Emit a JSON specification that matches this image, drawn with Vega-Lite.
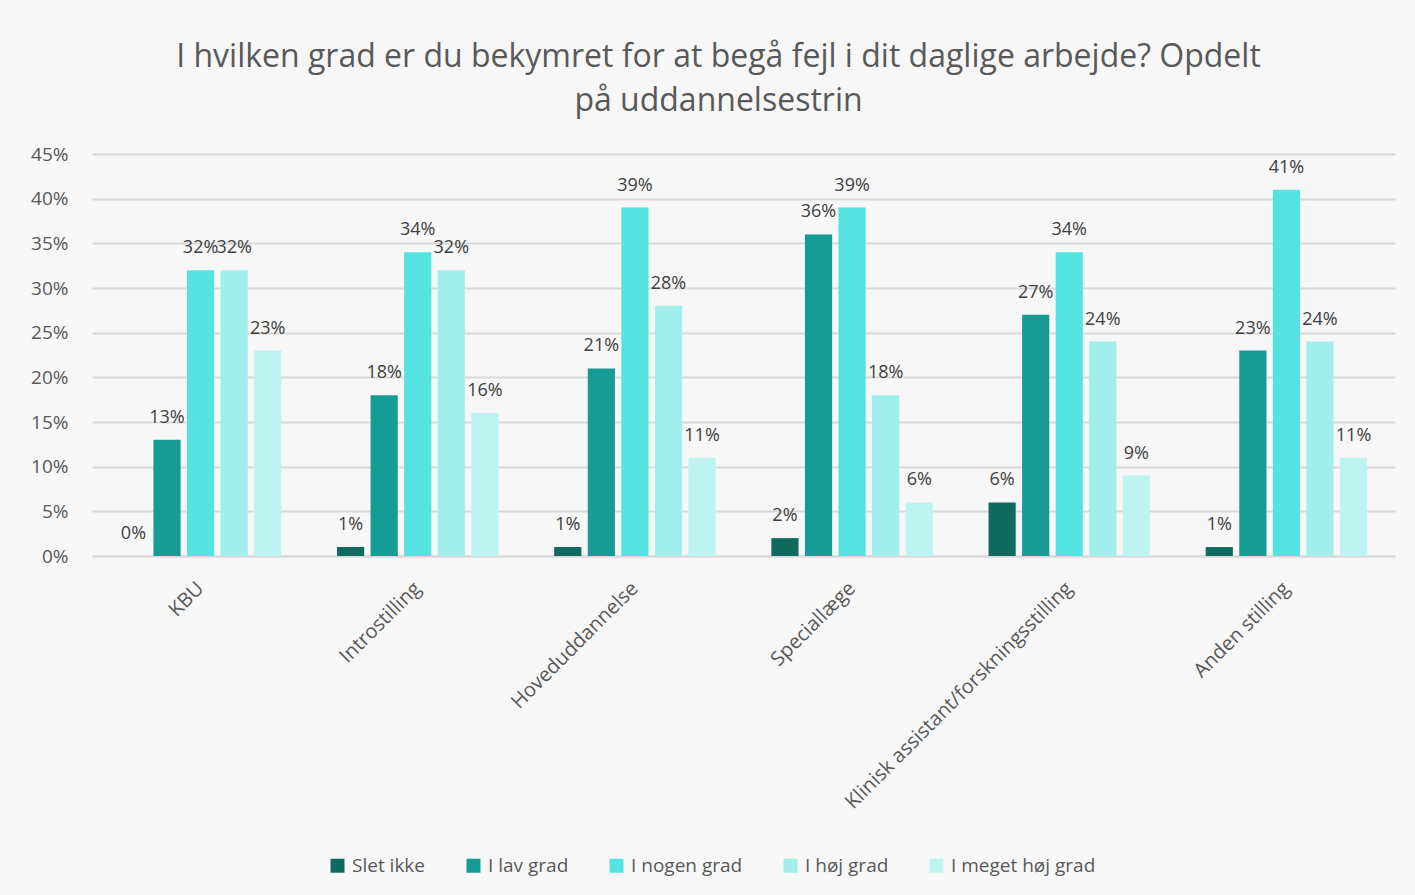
{
  "$schema": "https://vega.github.io/schema/vega-lite/v6.json",
  "width": 1303,
  "height": 402,
  "autosize": {"type": "none"},
  "padding": {"left": 92, "top": 154, "right": 20, "bottom": 339},
  "background": "#f7f7f7",
  "title": {
    "text": ["I hvilken grad er du bekymret for at begå fejl i dit daglige arbejde? Opdelt", "på uddannelsestrin"],
    "font": "Open Sans",
    "fontSize": 32,
    "fontWeight": "normal",
    "color": "#595959",
    "anchor": "middle",
    "dx": -25,
    "offset": 27,
    "lineHeight": 44
  },
  "config": {
    "view": {"stroke": null},
    "font": "Open Sans"
  },
  "data": {
    "values": [
      {"grp": "KBU", "cat": "Slet ikke", "v": 0.00},
      {"grp": "KBU", "cat": "I lav grad", "v": 0.13},
      {"grp": "KBU", "cat": "I nogen grad", "v": 0.32},
      {"grp": "KBU", "cat": "I høj grad", "v": 0.32},
      {"grp": "KBU", "cat": "I meget høj grad", "v": 0.23},
      {"grp": "Introstilling", "cat": "Slet ikke", "v": 0.01},
      {"grp": "Introstilling", "cat": "I lav grad", "v": 0.18},
      {"grp": "Introstilling", "cat": "I nogen grad", "v": 0.34},
      {"grp": "Introstilling", "cat": "I høj grad", "v": 0.32},
      {"grp": "Introstilling", "cat": "I meget høj grad", "v": 0.16},
      {"grp": "Hoveduddannelse", "cat": "Slet ikke", "v": 0.01},
      {"grp": "Hoveduddannelse", "cat": "I lav grad", "v": 0.21},
      {"grp": "Hoveduddannelse", "cat": "I nogen grad", "v": 0.39},
      {"grp": "Hoveduddannelse", "cat": "I høj grad", "v": 0.28},
      {"grp": "Hoveduddannelse", "cat": "I meget høj grad", "v": 0.11},
      {"grp": "Speciallæge", "cat": "Slet ikke", "v": 0.02},
      {"grp": "Speciallæge", "cat": "I lav grad", "v": 0.36},
      {"grp": "Speciallæge", "cat": "I nogen grad", "v": 0.39},
      {"grp": "Speciallæge", "cat": "I høj grad", "v": 0.18},
      {"grp": "Speciallæge", "cat": "I meget høj grad", "v": 0.06},
      {"grp": "Klinisk assistant/forskningsstilling", "cat": "Slet ikke", "v": 0.06},
      {"grp": "Klinisk assistant/forskningsstilling", "cat": "I lav grad", "v": 0.27},
      {"grp": "Klinisk assistant/forskningsstilling", "cat": "I nogen grad", "v": 0.34},
      {"grp": "Klinisk assistant/forskningsstilling", "cat": "I høj grad", "v": 0.24},
      {"grp": "Klinisk assistant/forskningsstilling", "cat": "I meget høj grad", "v": 0.09},
      {"grp": "Anden stilling", "cat": "Slet ikke", "v": 0.01},
      {"grp": "Anden stilling", "cat": "I lav grad", "v": 0.23},
      {"grp": "Anden stilling", "cat": "I nogen grad", "v": 0.41},
      {"grp": "Anden stilling", "cat": "I høj grad", "v": 0.24},
      {"grp": "Anden stilling", "cat": "I meget høj grad", "v": 0.11}
    ]
  },
  "encoding": {
    "x": {
      "field": "grp",
      "type": "nominal",
      "sort": null,
      "scale": {"paddingInner": 0, "paddingOuter": 0},
      "axis": {
        "title": null,
        "labelAngle": -45,
        "labelAlign": "right",
        "labelBaseline": "middle",
        "labelFont": "Open Sans",
        "labelFontSize": 20,
        "labelColor": "#595959",
        "labelPadding": 29,
        "ticks": false,
        "domain": true,
        "domainColor": "#d9d9d9",
        "domainWidth": 2,
        "labelLimit": 500
      }
    },
    "xOffset": {
      "field": "cat",
      "type": "nominal",
      "sort": ["Slet ikke", "I lav grad", "I nogen grad", "I høj grad", "I meget høj grad"],
      "scale": {"paddingInner": 0.19, "paddingOuter": 0.83}
    },
    "y": {
      "field": "v",
      "type": "quantitative",
      "scale": {"domain": [0, 0.45]},
      "axis": {
        "title": null,
        "format": ".0%",
        "values": [0, 0.05, 0.1, 0.15, 0.2, 0.25, 0.3, 0.35, 0.4, 0.45],
        "labelFont": "Open Sans",
        "labelFontSize": 19,
        "labelColor": "#595959",
        "labelPadding": 24,
        "ticks": false,
        "domain": false,
        "gridColor": "#d9d9d9",
        "gridWidth": 2
      }
    }
  },
  "layer": [
    {
      "mark": {"type": "bar"},
      "encoding": {
        "color": {
          "field": "cat",
          "type": "nominal",
          "sort": ["Slet ikke", "I lav grad", "I nogen grad", "I høj grad", "I meget høj grad"],
          "scale": {
            "domain": ["Slet ikke", "I lav grad", "I nogen grad", "I høj grad", "I meget høj grad"],
            "range": ["#0e6b5e", "#179b95", "#54e3e0", "#a0efeb", "#bdf4f2"]
          },
          "legend": {
            "title": null,
            "orient": "none",
            "direction": "horizontal",
            "legendX": 236,
            "legendY": 702,
            "symbolType": "square",
            "symbolSize": 196,
            "symbolStrokeWidth": 0,
            "labelFont": "Open Sans",
            "labelFontSize": 19,
            "labelColor": "#595959",
            "labelOffset": 5,
            "columnPadding": 38
          }
        }
      }
    },
    {
      "mark": {"type": "text", "baseline": "alphabetic", "dy": -17, "font": "Open Sans", "fontSize": 18, "color": "#404040"},
      "encoding": {
        "text": {"field": "v", "type": "quantitative", "format": ".0%"}
      }
    }
  ]
}
